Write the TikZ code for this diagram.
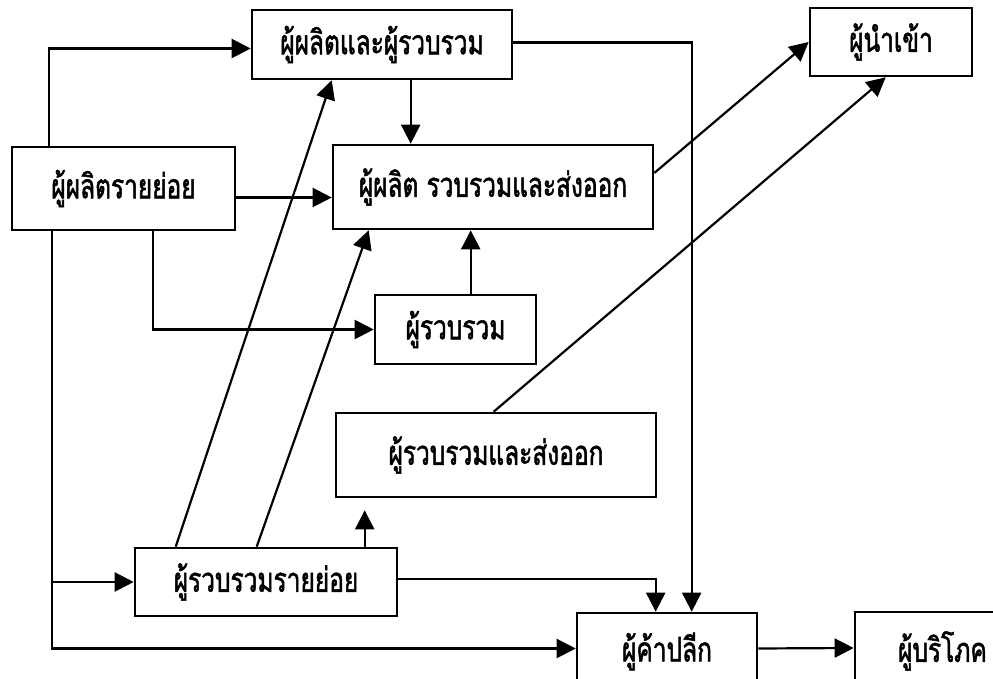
\documentclass[tikz,border=0pt]{standalone}
\usepackage{fontspec}
\newfontfamily\thaifont[Script=Thai,FakeStretch=0.72,FakeBold=1.5]{Loma}
\usetikzlibrary{arrows.meta,calc}
\tikzset{
  box/.style={draw, line width=1.3pt, inner sep=0pt, font=\thaifont\fontsize{17}{19}\selectfont},
  arr/.style={line width=1.1pt, -{Triangle[length=9.5pt,width=9.5pt]}},
}
\begin{document}
\begin{tikzpicture}[x=0.5pt,y=-0.5pt]
      \useasboundingbox (0,0) rectangle (993,679);
      \clip (0,0) rectangle (993,679);
      \node[box, minimum width=130pt, minimum height=34.5pt] (A) at (382, 44.5) {ผู้ผลิตและผู้รวบรวม};
      \node[box, minimum width=111.5pt, minimum height=41.5pt] (B) at (123.5, 188.5) {ผู้ผลิตรายย่อย};
      \node[box, minimum width=160pt, minimum height=42pt] (C) at (493, 187) {ผู้ผลิต รวบรวมและส่งออก};
      \node[box, minimum width=81pt, minimum height=34pt] (I) at (891, 42) {ผู้นำเข้า};
      \node[box, minimum width=80.5pt, minimum height=34.5pt] (D) at (455.5, 329.5) {ผู้รวบรวม};
      \node[box, minimum width=160pt, minimum height=42pt] (E) at (496, 455) {ผู้รวบรวมและส่งออก};
      \node[box, minimum width=131pt, minimum height=34pt] (F) at (266, 582) {ผู้รวบรวมรายย่อย};
      \node[box, minimum width=90pt, minimum height=38.5pt] (G) at (667, 651.5) {ผู้ค้าปลีก};
      \node[box, minimum width=87.5pt, minimum height=39pt] (H) at (942.5, 651) {ผู้บริโภค};
      \draw[arr] ($(B.north west)+(38,0)$) |- ($(A.west)+(0,4)$);
      \draw[arr] ($(A.south west)+(160,0)$) coordinate (p) -- (p |- C.north);
      \draw[arr] ($(B.east)+(0,9)$) coordinate (p) -- (p -| C.west);
      \draw[arr] ($(B.south west)+(142,0)$) |- (D.west);
      \draw[arr] ($(B.south west)+(41,0)$) |- (F.west);
      \draw[arr] ($(B.south west)+(41,0)$) |- ($(G.west)+(0,-3)$);
      \draw[arr] ($(D.north west)+(97,0)$) coordinate (p) -- (p |- C.south);
      \draw[arr] ($(F.north west)+(42,0)$) -- ($(A.south west)+(81,0)$);
      \draw[arr] ($(F.north west)+(123,0)$) -- ($(C.south west)+(37,0)$);
      \draw[arr, shorten >=6pt] ($(F.north west)+(231,0)$) coordinate (p) -- (p |- E.south);
      \draw[arr] ($(F.east)+(0,-3)$) -| ($(G.north west)+(80,0)$);
      \draw[arr] ($(A.east)+(0,-2)$) -| ($(G.north west)+(116,0)$);
      \draw[arr] ($(C.east)+(0,-14)$) -- (I.west);
      \draw[arr] ($(E.north west)+(159,0)$) -- ($(I.south west)+(77,0)$);
      \draw[arr] ($(G.east)+(0,-3)$) -- ($(H.west)+(0,-3)$);
    \end{tikzpicture}
\end{document}
